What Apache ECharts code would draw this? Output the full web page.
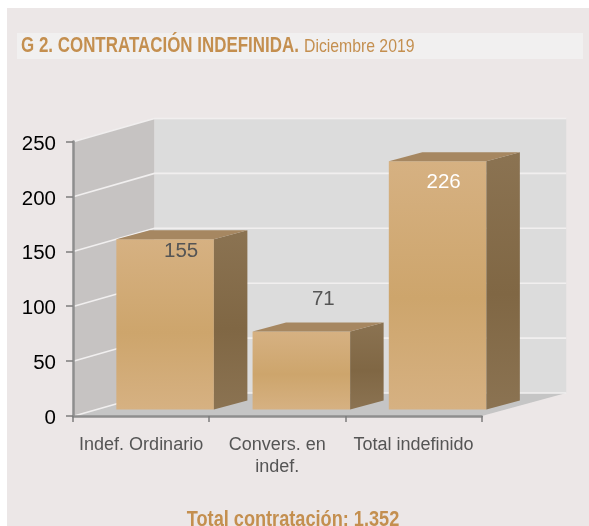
<!DOCTYPE html>
<html><head><meta charset="utf-8">
<style>html,body{margin:0;padding:0;background:#fff}#c{width:589px;height:526px}</style>
<script src="https://cdn.jsdelivr.net/npm/echarts@6/dist/echarts.min.js"></script>
</head><body><div id="c"></div>
<script>
const categories = ['Indef. Ordinario', 'Convers. en\nindef.', 'Total indefinido'];
const values = [155, 71, 226];
const yTicks = [0, 50, 100, 150, 200, 250];
const titleMain = 'G 2. CONTRATACIÓN INDEFINIDA.';
const titleSub = 'Diciembre 2019';
const footer = 'Total contratación: 1.352';

// 3D look (pixels)
const WALL = {dx: 81.5, dy: -23, rdx: 84.5};
const BAR = {shift: 24, lift: -6.5, dx: 33.5, dy: -9, widthRatio: 0.716};
const LABEL = [
  {dx: 40, dy: 6, color: '#555555'},
  {dx: 46, dy: -38.5, color: '#555555'},
  {dx: 30, dy: 14, color: '#ffffff'}
];
const grad = (a, b) => ({type: 'linear', x: 0, y: 0, x2: 0, y2: 1,
  colorStops: [{offset: 0, color: a}, {offset: 0.55, color: b}, {offset: 1, color: a}]});

const wallSeries = {
  type: 'custom', silent: true, z: 1, data: [0], clip: false,
  renderItem(params, api) {
    const left = params.coordSys.x, right = params.coordSys.x + params.coordSys.width;
    const y0 = params.coordSys.y + params.coordSys.height, yT = params.coordSys.y;
    const children = [
      {type: 'polygon', shape: {points: [[left, y0], [left + WALL.dx, y0 + WALL.dy], [left + WALL.dx, yT + WALL.dy], [left, yT]]}, style: {fill: '#c6c3c2'}},
      {type: 'rect', shape: {x: left + WALL.dx, y: yT + WALL.dy, width: right + WALL.rdx - left - WALL.dx, height: y0 - yT}, style: {fill: '#dcdcdc'}},
      {type: 'polygon', shape: {points: [[left, y0], [right, y0], [right + WALL.rdx, y0 + WALL.dy], [left + WALL.dx, y0 + WALL.dy]]}, style: {fill: '#c5c5c5'}}
    ];
    return {type: 'group', children};
  }
};
const gridSeries = {
  type: 'custom', silent: true, z: 2, clip: false,
  data: yTicks,
  encode: {y: 0},
  renderItem(params, api) {
    const left = params.coordSys.x, right = params.coordSys.x + params.coordSys.width;
    const y = api.coord([0, api.value(0)])[1];
    const style = {stroke: '#f1efef', lineWidth: 1.6, fill: 'none'};
    return {type: 'group', children: [
      {type: 'polyline', shape: {points: [[left + 1, y], [left + WALL.dx, y + WALL.dy], [right + WALL.rdx, y + WALL.dy]]}, style}
    ]};
  }
};
const barSeries = {
  type: 'custom', silent: true, z: 3, clip: false,
  data: values.map((v, i) => [i, v]),
  encode: {x: 0, y: 1},
  renderItem(params, api) {
    const i = api.value(0), v = api.value(1);
    const band = api.size([1, 0])[0];
    const w = band * BAR.widthRatio;
    const c = api.coord([i, 0]), t = api.coord([i, v]);
    const x0 = c[0] + BAR.shift - w / 2, x1 = x0 + w;
    const yb = c[1] + BAR.lift, yt = t[1] + BAR.lift;
    const L = LABEL[i];
    return {type: 'group', children: [
      {type: 'rect', shape: {x: x0, y: yt, width: w, height: yb - yt}, style: {fill: grad('#d6b182', '#cda56c')}},
      {type: 'polygon', shape: {points: [[x1, yb], [x1 + BAR.dx, yb + BAR.dy], [x1 + BAR.dx, yt + BAR.dy], [x1, yt]]}, style: {fill: grad('#8b7352', '#806744')}},
      {type: 'polygon', shape: {points: [[x0, yt], [x1, yt], [x1 + BAR.dx, yt + BAR.dy], [x0 + BAR.dx, yt + BAR.dy]]}, style: {fill: '#a68761'}},
      {type: 'text', style: {text: String(v), x: c[0] + L.dx, y: t[1] + L.dy, align: 'center', verticalAlign: 'middle',
        fill: L.color, font: '20.5px "Liberation Sans", Arial, sans-serif'}}
    ]};
  }
};

const chart = echarts.init(document.getElementById('c'), null, {renderer: 'canvas'});
chart.setOption({
  animation: false,
  backgroundColor: '#ffffff',
  grid: {left: 73, top: 141.5, width: 408.7, height: 274.5, containLabel: false},
  xAxis: {
    type: 'category', data: categories, z: 5,
    axisLine: {lineStyle: {color: '#8e8e8e', width: 2.5}},
    axisTick: {show: true, alignWithLabel: false, length: 6, lineStyle: {color: '#7d7d7d', width: 1.5}},
    axisLabel: {color: '#555555', fontSize: 18, lineHeight: 22, margin: 18, interval: 0, fontFamily: '"Liberation Sans", Arial, sans-serif'},
    splitLine: {show: false}
  },
  yAxis: {
    type: 'value', min: 0, max: 250, interval: 50, z: 5,
    axisLine: {show: true, lineStyle: {color: '#8e8e8e', width: 2.5}},
    axisTick: {show: true, length: 7, lineStyle: {color: '#7d7d7d', width: 1.5}},
    axisLabel: {margin: 17, formatter: '{a|{value}}',
      rich: {a: {color: '#000000', fontSize: 20.5, padding: [5, 0, 0, 0], fontFamily: '"Liberation Sans", Arial, sans-serif'}}},
    splitLine: {show: false}
  },
  series: [wallSeries, gridSeries, barSeries],
  graphic: [
    {type: 'rect', silent: true, z: -10, shape: {x: 7, y: 8, width: 582, height: 518}, style: {fill: '#ece7e7'}},
    {type: 'rect', silent: true, z: -9, shape: {x: 17, y: 33, width: 566, height: 26}, style: {fill: '#f1f0f0'}},
    {type: 'text', silent: true, z: 10, x: 21, y: 46, scaleX: 0.77, style: {text: titleMain, x: 0, y: 0, verticalAlign: 'middle',
      fill: '#c48f4f', font: 'bold 22px "Liberation Sans", sans-serif'}},
    {type: 'text', silent: true, z: 10, x: 304, y: 47, scaleX: 0.83, style: {text: titleSub, x: 0, y: 0, verticalAlign: 'middle',
      fill: '#c48f4f', font: '19px "Liberation Sans", sans-serif'}},
    {type: 'text', silent: true, z: 10, x: 293, y: 520, scaleX: 0.825, style: {text: footer, x: 0, y: 0, align: 'center', verticalAlign: 'middle',
      fill: '#c48f4f', font: 'bold 22px "Liberation Sans", sans-serif'}}
  ]
});
</script></body></html>
